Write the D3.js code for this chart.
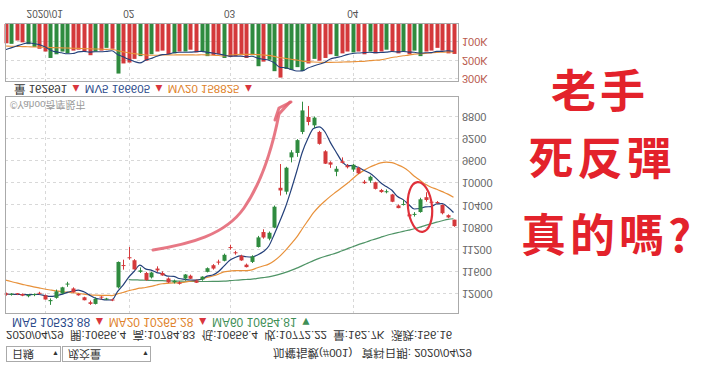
<!DOCTYPE html>
<html><head><meta charset="utf-8">
<script src="https://cdn.jsdelivr.net/npm/d3@7"></script>
<style>body{margin:0;background:#fff}svg{display:block}</style>
</head><body><svg id="c" width="720" height="366"></svg>
<script>
const dates = ["2019/12/23","2019/12/24","2019/12/25","2019/12/26","2019/12/27","2019/12/30","2019/12/31",
"2020/01/02","2020/01/03","2020/01/06","2020/01/07","2020/01/08","2020/01/09","2020/01/10","2020/01/13","2020/01/14","2020/01/15","2020/01/16","2020/01/17","2020/01/20","2020/01/30","2020/01/31",
"2020/02/03","2020/02/04","2020/02/05","2020/02/06","2020/02/07","2020/02/10","2020/02/11","2020/02/12","2020/02/13","2020/02/14","2020/02/18","2020/02/19","2020/02/20","2020/02/21","2020/02/24","2020/02/25","2020/02/26","2020/02/27",
"2020/03/02","2020/03/03","2020/03/04","2020/03/05","2020/03/06","2020/03/09","2020/03/10","2020/03/11","2020/03/12","2020/03/13","2020/03/16","2020/03/17","2020/03/18","2020/03/19","2020/03/20","2020/03/23","2020/03/24","2020/03/25","2020/03/26","2020/03/27","2020/03/30","2020/03/31",
"2020/04/01","2020/04/06","2020/04/07","2020/04/08","2020/04/09","2020/04/10","2020/04/13","2020/04/14","2020/04/15","2020/04/16","2020/04/17","2020/04/20","2020/04/21","2020/04/22","2020/04/23","2020/04/24","2020/04/27","2020/04/28","2020/04/29"];
const open  = [11990,12015,11995,12000,12040,12020,11990,12026,12130,12070,11990,11830,11900,12000,12060,12150,12180,12060,12100,12100,11880,11490,
11340,11390,11600,11620,11700,11540,11620,11720,11790,11790,11720,11670,11760,11740,11600,11480,11420,11400,
11160,11250,11310,11470,11420,11150,10880,11000,10800,10080,10150,9530,9450,9070,8800,8950,9070,9420,9620,9790,9600,9680,
9750,9720,9970,9950,9980,10120,10160,10200,10400,10390,10560,10570,10518,10250,10350,10340,10390,10575,10656];
const high  = [12030,12030,12020,12040,12060,12040,12010,12100,12197,12085,12000,11870,11975,12030,12115,12197,12190,12100,12110,12130,11900,11560,
11380,11560,11620,11760,11720,11600,11670,11800,11810,11830,11760,11730,11800,11760,11610,11560,11470,11410,
11200,11290,11400,11520,11440,11160,11000,11030,10810,10220,10200,9620,9520,9110,8950,9000,9300,9650,9720,9870,9640,9730,
9790,9830,10010,9990,10110,10170,10180,10340,10450,10400,10600,10600,10530,10330,10370,10370,10560,10630,10785];
const low   = [11975,11985,11985,11990,12005,11990,11960,12010,12080,11920,11870,11780,11880,11990,12050,12120,12060,12040,12070,12085,11412,11380,
11150,11370,11520,11600,11600,11500,11590,11700,11740,11770,11640,11650,11740,11680,11520,11460,11380,11270,
11110,11220,11290,11450,11300,10950,10830,10870,10400,9650,9700,9400,9200,8523,8600,8790,9050,9400,9600,9690,9530,9650,
9650,9700,9940,9860,9970,10100,10110,10190,10380,10300,10540,10520,10260,10160,10330,10320,10380,10560,10656];
const close = [12010,11995,12005,12030,12015,12000,11997,12100,12110,11953,11880,11817,11970,12024,12113,12179,12090,12066,12091,12118,11421,11495,
11354,11555,11573,11749,11612,11574,11664,11791,11759,11815,11648,11725,11797,11686,11534,11540,11433,11292,
11170,11264,11393,11514,11321,10977,10978,10893,10422,10128,9717,9439,9218,8681,8890,8811,9285,9644,9661,9736,9629,9708,
9663,9818,9996,9880,10099,10157,10158,10332,10447,10375,10597,10566,10288,10300,10350,10355,10540,10616,10772];
// volume in K (百萬元)
const volume = [105,108,90,100,110,125,135,150,185,165,150,160,145,140,150,170,150,145,130,135,270,215,
210,190,175,200,165,150,145,165,160,150,150,140,155,150,175,170,165,185,
180,175,170,185,170,230,205,195,257,292,245,250,235,256,215,190,200,185,165,175,160,150,
155,150,165,150,160,150,140,150,160,150,165,145,175,150,145,130,145,160,163];
// moving-average values before a full window exists
const ma5Head  = [12000,12005,12008,12010];
const ma20Head = [11748,11775,11800,11825,11850,11870,11890,11910,11928,11945,11958,11968,11978,11990,12003,12015,12022,12025,12025];
const ma60Head = [null,null,null,null,null,null,null,null,null,null,null,null,null,null,null,null,null,null,null,null,null,null,
11740,11745,11748,11752,11755,11758,11760,11763,11765,11768,11770,11772,11773,11774,11774,11773,11771,11767,11760,11752,11745,11738,11730,
11718,11705,11690,11668,11642,11610,11573,11533,11487,11442,11397,11357,11323,11292];
const mv5Head  = [140,130,120,110];
const mv20Head = [120,121,122,123,124,125,126,127,128,129,130,131,132,133,134,135,136,137,138];

const priceTicks = [8800,9200,9600,10000,10400,10800,11200,11600,12000];
const volTicks = [100,200,300];
const monthTickDates = ["2020/01/02","2020/02/03","2020/03/02","2020/04/01"];
const monthTickLabels = ["2020/01","02","03","04"];

const legendVol = [{t:"量 162691",c:"#333"},{t:"MV5 166605",c:"#2b4a8a"},{t:"MV20 158825",c:"#e0822a"}];
const legendMA = [{t:"MA5 10533.88",c:"#2b4a8a",a:"▲",ac:"#d9363e"},{t:"MA20 10265.28",c:"#e0822a",a:"▲",ac:"#d9363e"},{t:"MA60 10654.81",c:"#3f8f57",a:"▼",ac:"#3f8f57"}];
const ohlcText = "2020/04/29  開:10656.4  高:10784.83  低:10656.4  收:10772.22  量:162.7K  漲跌:156.16";
const titleText = "加權指數(#001)   資料日期: 2020/04/29";
const questionLines = ["老手","死反彈","真的嗎?"];

function rolling(vals, n, head){
  return vals.map((v,i)=> i>=n-1 ? d3.mean(vals.slice(i-n+1,i+1)) : (head[i]==null?null:head[i]));
}
const ma5 = rolling(close,5,ma5Head), ma20 = rolling(close,20,ma20Head), ma60 = rolling(close,60,ma60Head);
const mv5 = rolling(volume,5,mv5Head), mv20 = rolling(volume,20,mv20Head);

const RED="#d4393b", GREEN="#2f8b3f";
const svg = d3.select("#c");
svg.append("rect").attr("width",720).attr("height",366).attr("fill","#fff");
const g = svg.append("g").attr("transform","translate(0,366) scale(1,-1)");
const FONT = "'Liberation Sans', Arial, 'Noto Sans CJK TC', sans-serif";

const x = d3.scalePoint().domain(dates).range([5.5,453.5]);
const y = d3.scaleLinear().domain([8438,12362]).range([269,52]);
const yv = d3.scaleLinear().domain([0,316]).range([342,284]);
const L=5, R=458;

// grids
const grid = g.append("g").attr("stroke","#d8d8d8").attr("stroke-dasharray","3,3").attr("stroke-width",1);
priceTicks.forEach(t=>grid.append("line").attr("x1",L).attr("x2",R).attr("y1",Math.round(y(t))+0.5).attr("y2",Math.round(y(t))+0.5));
volTicks.forEach(t=>grid.append("line").attr("x1",L).attr("x2",R).attr("y1",Math.round(yv(t))+0.5).attr("y2",Math.round(yv(t))+0.5));
monthTickDates.forEach(d=>{
  const xx=Math.round(x(d))+0.5;
  grid.append("line").attr("x1",xx).attr("x2",xx).attr("y1",52).attr("y2",269);
  grid.append("line").attr("x1",xx).attr("x2",xx).attr("y1",284).attr("y2",342);
});

// watermark
g.append("text").attr("x",10).attr("y",265).attr("font-size",10).attr("fill","#9a9a9a").attr("font-family",FONT).text("©Yahoo奇摩股市");

// MA lines
const line = d3.line().defined(d=>d[1]!=null).x(d=>x(d[0])).y(d=>y(d[1])).curve(d3.curveMonotoneX);
[[ma60,"#4f9466"],[ma20,"#e8913a"],[ma5,"#24407a"]].forEach(([arr,c])=>{
  g.append("path").attr("d",line(dates.map((d,i)=>[d,arr[i]]))).attr("fill","none").attr("stroke",c).attr("stroke-width",1.2);
});

// candles
const cw=4;
const cg = g.append("g");
dates.forEach((d,i)=>{
  const up = close[i]>=open[i], col = up?RED:GREEN, xx=Math.round(x(d));
  cg.append("line").attr("x1",xx+0.5).attr("x2",xx+0.5).attr("y1",y(high[i])).attr("y2",y(low[i])).attr("stroke",col).attr("stroke-width",1);
  const y0=y(Math.max(open[i],close[i])), y1=y(Math.min(open[i],close[i]));
  cg.append("rect").attr("x",xx-1.5).attr("y",y0).attr("width",cw).attr("height",Math.max(1,y1-y0)).attr("fill",col);
});
// volume bars
const vg = g.append("g");
dates.forEach((d,i)=>{
  const up = close[i]>=open[i];
  vg.append("rect").attr("x",Math.round(x(d))-1.5).attr("y",yv(volume[i])).attr("width",cw).attr("height",342-yv(volume[i])).attr("fill",up?RED:GREEN);
});
const vline = d3.line().defined(d=>d[1]!=null).x(d=>x(d[0])).y(d=>yv(d[1])).curve(d3.curveMonotoneX);
[[mv20,"#e8913a"],[mv5,"#24407a"]].forEach(([arr,c])=>{
  g.append("path").attr("d",vline(dates.map((d,i)=>[d,arr[i]]))).attr("fill","none").attr("stroke",c).attr("stroke-width",1.1);
});

// frames
g.append("rect").attr("x",L+0.5).attr("y",52.5).attr("width",R-L).attr("height",217).attr("fill","none").attr("stroke","#aaa");
g.append("rect").attr("x",L+0.5).attr("y",284.5).attr("width",R-L).attr("height",58).attr("fill","none").attr("stroke","#aaa");

// axis labels
priceTicks.forEach(t=>g.append("text").attr("x",462).attr("y",y(t)+4).attr("font-size",11).attr("fill","#666").attr("font-family",FONT).text(t));
volTicks.forEach(t=>g.append("text").attr("x",462).attr("y",yv(t)+4).attr("font-size",11).attr("fill","#b8584c").attr("font-family",FONT).text(t+"K"));
monthTickDates.forEach((d,i)=>g.append("text").attr("x",x(d)).attr("y",356).attr("text-anchor","middle").attr("font-size",10).attr("fill","#555").attr("font-family",FONT).text(monthTickLabels[i]));

// volume legend
const vl = g.append("text").attr("x",14).attr("y",281).attr("font-size",11.5).attr("font-family",FONT);
legendVol.forEach(l=>{ vl.append("tspan").attr("fill",l.c).text(l.t+" "); vl.append("tspan").attr("fill","#d9363e").text("▲  "); });
// MA legend
const ml = g.append("text").attr("x",12).attr("y",48).attr("font-size",12).attr("font-family",FONT);
legendMA.forEach(l=>{ ml.append("tspan").attr("fill",l.c).text(l.t+" "); ml.append("tspan").attr("fill",l.ac).text(l.a+"   "); });
// OHLC line
g.append("text").attr("x",6).attr("y",35).attr("font-size",11.5).attr("fill","#333").attr("font-family",FONT).style("white-space","pre").text(ohlcText);
// dropdowns
[[6,54,"日線"],[62,88,"成交量"]].forEach(([bx,bw,t])=>{
  g.append("rect").attr("x",bx+0.5).attr("y",4.5).attr("width",bw).attr("height",15).attr("fill","#fff").attr("stroke","#aaa");
  g.append("text").attr("x",bx+6).attr("y",16).attr("font-size",11).attr("fill","#333").attr("font-family",FONT).text(t);
  g.append("text").attr("x",bx+bw-8).attr("y",15).attr("font-size",7).attr("fill","#333").attr("font-family",FONT).text("▼");
});
g.append("text").attr("x",273).attr("y",17).attr("font-size",11.5).attr("fill","#333").attr("font-family",FONT).style("white-space","pre").text(titleText);

// hand-drawn annotations (on top of flipped picture)
svg.append("path").attr("d","M153,250 C190,244 225,235 244,208 C262,182 272,150 279,114 L290,102")
  .attr("fill","none").attr("stroke","#e36070").attr("stroke-width",3).attr("stroke-linecap","round").attr("opacity",0.85);
svg.append("path").attr("d","M275,120 L279,108 L291,102")
  .attr("fill","none").attr("stroke","#e36070").attr("stroke-width",3).attr("stroke-linecap","round").attr("stroke-linejoin","round").attr("opacity",0.85);
svg.append("ellipse").attr("cx",420).attr("cy",207).attr("rx",12).attr("ry",25).attr("transform","rotate(-6,420,207)")
  .attr("fill","none").attr("stroke","#e0303a").attr("stroke-width",2.2);

// question text
const qy=[108,175,252], qx=[600,602,608];
questionLines.forEach((t,i)=>svg.append("text").attr("x",qx[i]).attr("y",qy[i]).attr("text-anchor","middle")
  .attr("font-size",45).attr("font-weight",700).attr("letter-spacing",4).attr("fill","#e3222b")
  .attr("font-family","'Noto Sans CJK TC','Noto Sans CJK SC',sans-serif").text(t));
</script></body></html>
